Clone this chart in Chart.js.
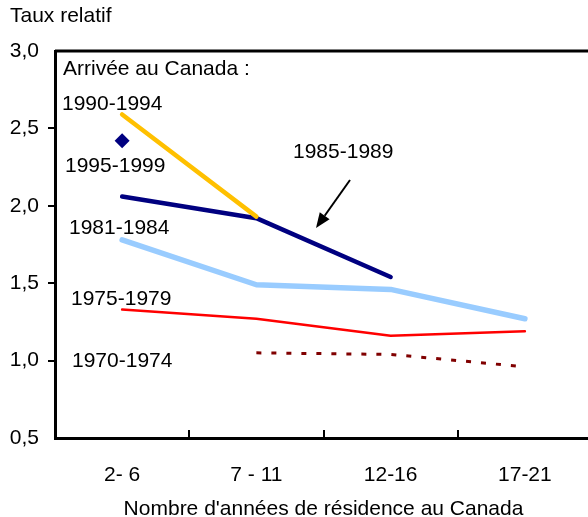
<!DOCTYPE html>
<html lang="fr">
  <head>
    <meta charset="UTF-8" />
    <title>Taux relatif</title>
    <script src="https://cdn.jsdelivr.net/npm/chart.js@4.4.0/dist/chart.umd.min.js"></script>
    <style>
      html, body { margin: 0; padding: 0; background: #fff; overflow: hidden; }
      #wrap { width: 588px; height: 517px; overflow: hidden; position: relative; }
      #chart { position: absolute; left: 0; top: 0; }
    </style>
  </head>
  <body>
    <div id="wrap"><canvas id="chart" width="600" height="517"></canvas></div>

    <script>
      // years of residence in Canada
      const categories = ["2- 6", "7 - 11", "12-16", "17-21"];
      // relative rate, by period of arrival
      const arr1990_1994 = [2.59, 1.93, null, null];
      const arr1995_1999 = [2.42, null, null, null];
      const arr1985_1989 = [2.06, 1.92, 1.54, null];
      const arr1981_1984 = [1.78, 1.49, 1.46, 1.27];
      const arr1975_1979 = [1.33, 1.27, 1.16, 1.19];
      const arr1970_1974 = [null, 1.05, 1.04, 0.96];
      const yMin = 0.5, yMax = 3.0, yStep = 0.5;

      const FONT = "'Liberation Sans', Arial, sans-serif";

      // text labels + arrow drawn on top of the chart
      const annotations = {
        id: "annotations",
        afterDraw(chart) {
          const ctx = chart.ctx;
          const area = chart.chartArea;
          const x = chart.scales.x;
          ctx.save();
          ctx.strokeStyle = "#000";
          // top frame line
          ctx.lineWidth = 3;
          ctx.beginPath();
          ctx.moveTo(area.left, area.top);
          ctx.lineTo(chart.width, area.top);
          ctx.stroke();
          // inward tick marks between categories
          ctx.lineWidth = 2;
          for (let i = 1; i < categories.length; i++) {
            const px = Math.round((x.getPixelForValue(i - 1) + x.getPixelForValue(i)) / 2);
            ctx.beginPath();
            ctx.moveTo(px, area.bottom);
            ctx.lineTo(px, area.bottom - 8);
            ctx.stroke();
          }
          // texts
          ctx.fillStyle = "#000";
          ctx.font = "21px " + FONT;
          ctx.textBaseline = "alphabetic";
          ctx.textAlign = "left";
          const texts = [
            ["Taux relatif", 10, 22],
            ["Arrivée au Canada :", 63, 75],
            ["1990-1994", 62, 110],
            ["1995-1999", 65, 172],
            ["1985-1989", 293, 158],
            ["1981-1984", 69, 234],
            ["1975-1979", 71, 305],
            ["1970-1974", 72, 367]
          ];
          texts.forEach(t => ctx.fillText(t[0], t[1], t[2]));
          // arrow pointing at 1985-1989
          const x0 = 350, y0 = 180, x1 = 316, y1 = 228;
          const ang = Math.atan2(y1 - y0, x1 - x0);
          const head = 15, half = 6;
          const bx = x1 - head * Math.cos(ang), by = y1 - head * Math.sin(ang);
          ctx.lineWidth = 2;
          ctx.beginPath();
          ctx.moveTo(x0, y0);
          ctx.lineTo(bx, by);
          ctx.stroke();
          ctx.beginPath();
          ctx.moveTo(x1, y1);
          ctx.lineTo(bx + half * Math.sin(ang), by - half * Math.cos(ang));
          ctx.lineTo(bx - half * Math.sin(ang), by + half * Math.cos(ang));
          ctx.closePath();
          ctx.fill();
          ctx.restore();
        }
      };

      function line(data, color, width, extra) {
        return Object.assign({
          data: data,
          borderColor: color,
          backgroundColor: color,
          borderWidth: width,
          pointRadius: 0,
          fill: false,
          tension: 0,
          borderCapStyle: "round",
          borderJoinStyle: "round",
          spanGaps: false
        }, extra || {});
      }

      const ctx = document.getElementById("chart").getContext("2d");
      const myChart = new Chart(ctx, {
        type: "line",
        data: {
          labels: categories,
          datasets: [
            line(arr1970_1974, "#800000", 3, { borderDash: [5, 10], borderCapStyle: "butt" }),
            line(arr1975_1979, "#ff0000", 2.5),
            line(arr1981_1984, "#99ccff", 5.5),
            line(arr1990_1994, "#ffc000", 4.5),
            line(arr1985_1989, "#000080", 4.5),
            line(arr1995_1999, "#000080", 0, { showLine: false, pointRadius: 7.5, pointStyle: "rectRot", pointBorderWidth: 0 })
          ]
        },
        options: {
          responsive: false,
          animation: false,
          layout: { padding: { top: 51, right: 8, left: 0, bottom: 0 } },
          plugins: { legend: { display: false }, tooltip: { enabled: false } },
          scales: {
            x: {
              offset: true,
              grid: { display: false, drawTicks: false },
              border: { display: true, color: "#000", width: 3 },
              ticks: { color: "#000", font: { family: FONT, size: 21 }, padding: 25, maxRotation: 0 },
              title: {
                display: true,
                text: "Nombre d'années de résidence au Canada",
                color: "#000",
                font: { family: FONT, size: 21, lineHeight: 1 },
                padding: { top: 0, bottom: -3 }
              },
              afterFit: s => { s.height = 79; }
            },
            y: {
              min: yMin,
              max: yMax,
              ticks: {
                stepSize: yStep,
                color: "#000",
                font: { family: FONT, size: 21 },
                padding: 9,
                callback: v => v.toFixed(1).replace(".", ",")
              },
              grid: {
                drawOnChartArea: false,
                drawTicks: true,
                tickLength: 7,
                lineWidth: 2,
                color: c => (c.tick && (c.tick.value === yMin || c.tick.value === yMax)) ? "rgba(0,0,0,0)" : "#000"
              },
              border: { display: true, color: "#000", width: 3 },
              afterFit: s => { s.width = 55; }
            }
          }
        },
        plugins: [annotations]
      });
    </script>
  </body>
</html>
